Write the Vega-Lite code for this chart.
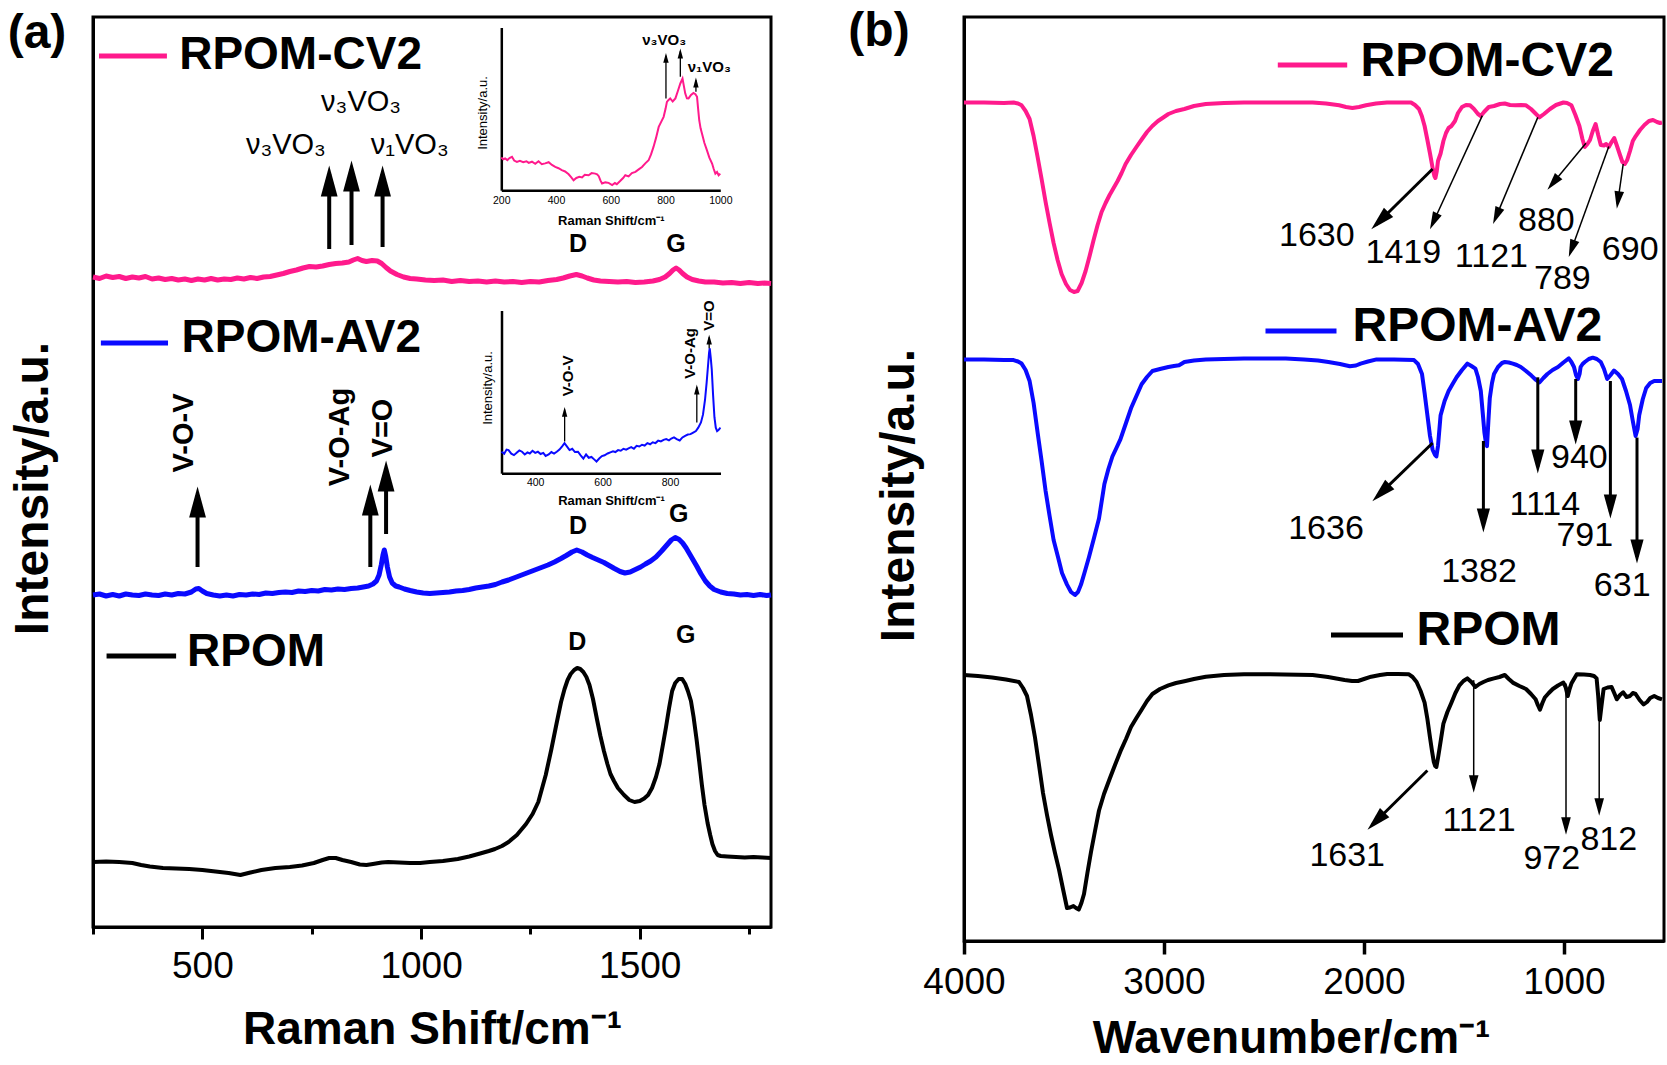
{
  "$schema": "https://vega.github.io/schema/vega-lite/v6.json",
  "background": "white",
  "padding": {"left": 6, "top": 6, "right": 0, "bottom": 0},
  "config": {
    "font": "Liberation Sans",
    "view": {"stroke": "black", "strokeWidth": 3},
    "axis": {"domainColor": "black", "tickColor": "black", "labelColor": "black", "titleColor": "black", "grid": false, "labelFont": "Liberation Sans", "titleFont": "Liberation Sans"},
    "text": {"font": "Liberation Sans", "color": "black"}
  },
  "datasets": {
    "raman": [
      {"sample":"RPOM-CV2","shift":250,"intensity":650},{"sample":"RPOM-CV2","shift":265,"intensity":648.5},{"sample":"RPOM-CV2","shift":280,"intensity":651},{"sample":"RPOM-CV2","shift":295,"intensity":649.5},{"sample":"RPOM-CV2","shift":310,"intensity":650.5},{"sample":"RPOM-CV2","shift":325,"intensity":648.5},{"sample":"RPOM-CV2","shift":340,"intensity":650},{"sample":"RPOM-CV2","shift":355,"intensity":649},{"sample":"RPOM-CV2","shift":370,"intensity":650.5},{"sample":"RPOM-CV2","shift":385,"intensity":648},{"sample":"RPOM-CV2","shift":400,"intensity":649},{"sample":"RPOM-CV2","shift":415,"intensity":647.5},{"sample":"RPOM-CV2","shift":430,"intensity":648.5},{"sample":"RPOM-CV2","shift":445,"intensity":647},{"sample":"RPOM-CV2","shift":460,"intensity":648},{"sample":"RPOM-CV2","shift":475,"intensity":646.5},{"sample":"RPOM-CV2","shift":490,"intensity":648},{"sample":"RPOM-CV2","shift":505,"intensity":647},{"sample":"RPOM-CV2","shift":520,"intensity":648.5},{"sample":"RPOM-CV2","shift":535,"intensity":647},{"sample":"RPOM-CV2","shift":550,"intensity":648},{"sample":"RPOM-CV2","shift":565,"intensity":647.5},{"sample":"RPOM-CV2","shift":580,"intensity":649},{"sample":"RPOM-CV2","shift":595,"intensity":648},{"sample":"RPOM-CV2","shift":610,"intensity":649.5},{"sample":"RPOM-CV2","shift":625,"intensity":648.5},{"sample":"RPOM-CV2","shift":640,"intensity":650},{"sample":"RPOM-CV2","shift":655,"intensity":650.5},{"sample":"RPOM-CV2","shift":670,"intensity":652},{"sample":"RPOM-CV2","shift":685,"intensity":653.5},{"sample":"RPOM-CV2","shift":700,"intensity":655.5},{"sample":"RPOM-CV2","shift":715,"intensity":657},{"sample":"RPOM-CV2","shift":730,"intensity":659},{"sample":"RPOM-CV2","shift":745,"intensity":660.5},{"sample":"RPOM-CV2","shift":760,"intensity":660},{"sample":"RPOM-CV2","shift":775,"intensity":661},{"sample":"RPOM-CV2","shift":790,"intensity":662.5},{"sample":"RPOM-CV2","shift":805,"intensity":663.5},{"sample":"RPOM-CV2","shift":820,"intensity":664},{"sample":"RPOM-CV2","shift":835,"intensity":665},{"sample":"RPOM-CV2","shift":845,"intensity":667},{"sample":"RPOM-CV2","shift":855,"intensity":668.5},{"sample":"RPOM-CV2","shift":865,"intensity":666.5},{"sample":"RPOM-CV2","shift":875,"intensity":665.5},{"sample":"RPOM-CV2","shift":888,"intensity":666.5},{"sample":"RPOM-CV2","shift":900,"intensity":666},{"sample":"RPOM-CV2","shift":910,"intensity":663.5},{"sample":"RPOM-CV2","shift":920,"intensity":659.5},{"sample":"RPOM-CV2","shift":930,"intensity":656},{"sample":"RPOM-CV2","shift":945,"intensity":652.5},{"sample":"RPOM-CV2","shift":960,"intensity":650},{"sample":"RPOM-CV2","shift":975,"intensity":648.5},{"sample":"RPOM-CV2","shift":990,"intensity":648},{"sample":"RPOM-CV2","shift":1010,"intensity":647},{"sample":"RPOM-CV2","shift":1030,"intensity":646.5},{"sample":"RPOM-CV2","shift":1050,"intensity":647},{"sample":"RPOM-CV2","shift":1070,"intensity":645.5},{"sample":"RPOM-CV2","shift":1090,"intensity":646.5},{"sample":"RPOM-CV2","shift":1110,"intensity":645.5},{"sample":"RPOM-CV2","shift":1130,"intensity":646},{"sample":"RPOM-CV2","shift":1150,"intensity":645},{"sample":"RPOM-CV2","shift":1170,"intensity":646},{"sample":"RPOM-CV2","shift":1190,"intensity":645},{"sample":"RPOM-CV2","shift":1210,"intensity":645.5},{"sample":"RPOM-CV2","shift":1230,"intensity":644.5},{"sample":"RPOM-CV2","shift":1250,"intensity":645.5},{"sample":"RPOM-CV2","shift":1270,"intensity":645},{"sample":"RPOM-CV2","shift":1290,"intensity":646.5},{"sample":"RPOM-CV2","shift":1310,"intensity":647.5},{"sample":"RPOM-CV2","shift":1325,"intensity":649},{"sample":"RPOM-CV2","shift":1340,"intensity":651},{"sample":"RPOM-CV2","shift":1355,"intensity":652.5},{"sample":"RPOM-CV2","shift":1368,"intensity":651},{"sample":"RPOM-CV2","shift":1380,"intensity":649},{"sample":"RPOM-CV2","shift":1395,"intensity":647},{"sample":"RPOM-CV2","shift":1410,"intensity":646},{"sample":"RPOM-CV2","shift":1430,"intensity":645.5},{"sample":"RPOM-CV2","shift":1450,"intensity":645},{"sample":"RPOM-CV2","shift":1470,"intensity":645.5},{"sample":"RPOM-CV2","shift":1490,"intensity":644.5},{"sample":"RPOM-CV2","shift":1510,"intensity":645},{"sample":"RPOM-CV2","shift":1530,"intensity":646},{"sample":"RPOM-CV2","shift":1545,"intensity":647.5},{"sample":"RPOM-CV2","shift":1558,"intensity":650},{"sample":"RPOM-CV2","shift":1568,"intensity":653.5},{"sample":"RPOM-CV2","shift":1576,"intensity":657},{"sample":"RPOM-CV2","shift":1583,"intensity":659},{"sample":"RPOM-CV2","shift":1590,"intensity":657},{"sample":"RPOM-CV2","shift":1598,"intensity":653.5},{"sample":"RPOM-CV2","shift":1608,"intensity":650},{"sample":"RPOM-CV2","shift":1620,"intensity":647.5},{"sample":"RPOM-CV2","shift":1635,"intensity":646},{"sample":"RPOM-CV2","shift":1650,"intensity":645},{"sample":"RPOM-CV2","shift":1670,"intensity":645},{"sample":"RPOM-CV2","shift":1690,"intensity":644},{"sample":"RPOM-CV2","shift":1710,"intensity":644.5},{"sample":"RPOM-CV2","shift":1730,"intensity":643.5},{"sample":"RPOM-CV2","shift":1750,"intensity":644.5},{"sample":"RPOM-CV2","shift":1770,"intensity":643.5},{"sample":"RPOM-CV2","shift":1785,"intensity":644},{"sample":"RPOM-CV2","shift":1800,"intensity":643.5},
      {"sample":"RPOM-AV2","shift":250,"intensity":332},{"sample":"RPOM-AV2","shift":265,"intensity":333},{"sample":"RPOM-AV2","shift":280,"intensity":331},{"sample":"RPOM-AV2","shift":295,"intensity":332.5},{"sample":"RPOM-AV2","shift":310,"intensity":331},{"sample":"RPOM-AV2","shift":325,"intensity":333},{"sample":"RPOM-AV2","shift":340,"intensity":332},{"sample":"RPOM-AV2","shift":355,"intensity":331.5},{"sample":"RPOM-AV2","shift":370,"intensity":333},{"sample":"RPOM-AV2","shift":385,"intensity":332},{"sample":"RPOM-AV2","shift":400,"intensity":331.5},{"sample":"RPOM-AV2","shift":415,"intensity":333},{"sample":"RPOM-AV2","shift":430,"intensity":332},{"sample":"RPOM-AV2","shift":445,"intensity":333.5},{"sample":"RPOM-AV2","shift":460,"intensity":333},{"sample":"RPOM-AV2","shift":475,"intensity":335},{"sample":"RPOM-AV2","shift":485,"intensity":338},{"sample":"RPOM-AV2","shift":492,"intensity":338.5},{"sample":"RPOM-AV2","shift":500,"intensity":336},{"sample":"RPOM-AV2","shift":510,"intensity":333.5},{"sample":"RPOM-AV2","shift":525,"intensity":332},{"sample":"RPOM-AV2","shift":540,"intensity":331},{"sample":"RPOM-AV2","shift":555,"intensity":332},{"sample":"RPOM-AV2","shift":570,"intensity":331},{"sample":"RPOM-AV2","shift":585,"intensity":332.5},{"sample":"RPOM-AV2","shift":600,"intensity":332},{"sample":"RPOM-AV2","shift":615,"intensity":333},{"sample":"RPOM-AV2","shift":630,"intensity":332.5},{"sample":"RPOM-AV2","shift":645,"intensity":334},{"sample":"RPOM-AV2","shift":660,"intensity":333.5},{"sample":"RPOM-AV2","shift":675,"intensity":334.5},{"sample":"RPOM-AV2","shift":690,"intensity":335},{"sample":"RPOM-AV2","shift":705,"intensity":334.5},{"sample":"RPOM-AV2","shift":720,"intensity":336},{"sample":"RPOM-AV2","shift":735,"intensity":335.5},{"sample":"RPOM-AV2","shift":750,"intensity":336.5},{"sample":"RPOM-AV2","shift":765,"intensity":336},{"sample":"RPOM-AV2","shift":780,"intensity":337.5},{"sample":"RPOM-AV2","shift":795,"intensity":337},{"sample":"RPOM-AV2","shift":810,"intensity":338},{"sample":"RPOM-AV2","shift":825,"intensity":337.5},{"sample":"RPOM-AV2","shift":840,"intensity":338.5},{"sample":"RPOM-AV2","shift":855,"intensity":339},{"sample":"RPOM-AV2","shift":868,"intensity":340},{"sample":"RPOM-AV2","shift":880,"intensity":341},{"sample":"RPOM-AV2","shift":890,"intensity":343},{"sample":"RPOM-AV2","shift":898,"intensity":346},{"sample":"RPOM-AV2","shift":904,"intensity":352},{"sample":"RPOM-AV2","shift":909,"intensity":362},{"sample":"RPOM-AV2","shift":913,"intensity":372},{"sample":"RPOM-AV2","shift":916,"intensity":377},{"sample":"RPOM-AV2","shift":919,"intensity":371},{"sample":"RPOM-AV2","shift":923,"intensity":360},{"sample":"RPOM-AV2","shift":928,"intensity":350},{"sample":"RPOM-AV2","shift":934,"intensity":344},{"sample":"RPOM-AV2","shift":942,"intensity":341},{"sample":"RPOM-AV2","shift":950,"intensity":340},{"sample":"RPOM-AV2","shift":962,"intensity":338},{"sample":"RPOM-AV2","shift":975,"intensity":336.5},{"sample":"RPOM-AV2","shift":990,"intensity":335},{"sample":"RPOM-AV2","shift":1005,"intensity":334},{"sample":"RPOM-AV2","shift":1020,"intensity":333.5},{"sample":"RPOM-AV2","shift":1035,"intensity":334},{"sample":"RPOM-AV2","shift":1050,"intensity":334.5},{"sample":"RPOM-AV2","shift":1065,"intensity":335},{"sample":"RPOM-AV2","shift":1080,"intensity":336},{"sample":"RPOM-AV2","shift":1095,"intensity":336.5},{"sample":"RPOM-AV2","shift":1110,"intensity":337.5},{"sample":"RPOM-AV2","shift":1125,"intensity":339},{"sample":"RPOM-AV2","shift":1140,"intensity":340},{"sample":"RPOM-AV2","shift":1155,"intensity":341},{"sample":"RPOM-AV2","shift":1170,"intensity":342.5},{"sample":"RPOM-AV2","shift":1185,"intensity":345},{"sample":"RPOM-AV2","shift":1200,"intensity":347},{"sample":"RPOM-AV2","shift":1215,"intensity":349.5},{"sample":"RPOM-AV2","shift":1230,"intensity":352},{"sample":"RPOM-AV2","shift":1245,"intensity":354.5},{"sample":"RPOM-AV2","shift":1260,"intensity":357},{"sample":"RPOM-AV2","shift":1275,"intensity":359.5},{"sample":"RPOM-AV2","shift":1290,"intensity":362},{"sample":"RPOM-AV2","shift":1305,"intensity":365},{"sample":"RPOM-AV2","shift":1320,"intensity":368.5},{"sample":"RPOM-AV2","shift":1332,"intensity":371.5},{"sample":"RPOM-AV2","shift":1345,"intensity":375},{"sample":"RPOM-AV2","shift":1356,"intensity":377},{"sample":"RPOM-AV2","shift":1368,"intensity":375},{"sample":"RPOM-AV2","shift":1380,"intensity":372},{"sample":"RPOM-AV2","shift":1392,"intensity":369.5},{"sample":"RPOM-AV2","shift":1405,"intensity":367},{"sample":"RPOM-AV2","shift":1418,"intensity":364.5},{"sample":"RPOM-AV2","shift":1430,"intensity":361.5},{"sample":"RPOM-AV2","shift":1442,"intensity":358.5},{"sample":"RPOM-AV2","shift":1455,"intensity":355.5},{"sample":"RPOM-AV2","shift":1466,"intensity":354},{"sample":"RPOM-AV2","shift":1478,"intensity":355},{"sample":"RPOM-AV2","shift":1490,"intensity":357.5},{"sample":"RPOM-AV2","shift":1502,"intensity":360},{"sample":"RPOM-AV2","shift":1513,"intensity":363},{"sample":"RPOM-AV2","shift":1525,"intensity":366},{"sample":"RPOM-AV2","shift":1537,"intensity":370},{"sample":"RPOM-AV2","shift":1550,"intensity":376},{"sample":"RPOM-AV2","shift":1562,"intensity":382},{"sample":"RPOM-AV2","shift":1572,"intensity":387},{"sample":"RPOM-AV2","shift":1581,"intensity":389.5},{"sample":"RPOM-AV2","shift":1590,"intensity":387.5},{"sample":"RPOM-AV2","shift":1598,"intensity":384},{"sample":"RPOM-AV2","shift":1606,"intensity":379},{"sample":"RPOM-AV2","shift":1614,"intensity":373},{"sample":"RPOM-AV2","shift":1622,"intensity":367},{"sample":"RPOM-AV2","shift":1630,"intensity":361},{"sample":"RPOM-AV2","shift":1640,"intensity":353},{"sample":"RPOM-AV2","shift":1650,"intensity":346},{"sample":"RPOM-AV2","shift":1660,"intensity":341},{"sample":"RPOM-AV2","shift":1670,"intensity":337.5},{"sample":"RPOM-AV2","shift":1685,"intensity":335},{"sample":"RPOM-AV2","shift":1700,"intensity":333.5},{"sample":"RPOM-AV2","shift":1715,"intensity":333},{"sample":"RPOM-AV2","shift":1730,"intensity":332},{"sample":"RPOM-AV2","shift":1745,"intensity":332.5},{"sample":"RPOM-AV2","shift":1760,"intensity":331.5},{"sample":"RPOM-AV2","shift":1775,"intensity":332.5},{"sample":"RPOM-AV2","shift":1790,"intensity":331.5},{"sample":"RPOM-AV2","shift":1800,"intensity":332},
      {"sample":"RPOM","shift":250,"intensity":65},{"sample":"RPOM","shift":280,"intensity":65.5},{"sample":"RPOM","shift":310,"intensity":65},{"sample":"RPOM","shift":340,"intensity":64},{"sample":"RPOM","shift":360,"intensity":62},{"sample":"RPOM","shift":380,"intensity":60.5},{"sample":"RPOM","shift":410,"intensity":59},{"sample":"RPOM","shift":440,"intensity":58.5},{"sample":"RPOM","shift":470,"intensity":58},{"sample":"RPOM","shift":500,"intensity":57},{"sample":"RPOM","shift":530,"intensity":55.5},{"sample":"RPOM","shift":560,"intensity":54},{"sample":"RPOM","shift":587,"intensity":52},{"sample":"RPOM","shift":610,"intensity":54.5},{"sample":"RPOM","shift":635,"intensity":57},{"sample":"RPOM","shift":667,"intensity":59},{"sample":"RPOM","shift":700,"intensity":60},{"sample":"RPOM","shift":728,"intensity":61.5},{"sample":"RPOM","shift":755,"intensity":64},{"sample":"RPOM","shift":775,"intensity":67},{"sample":"RPOM","shift":790,"intensity":69},{"sample":"RPOM","shift":805,"intensity":69},{"sample":"RPOM","shift":820,"intensity":67},{"sample":"RPOM","shift":840,"intensity":65},{"sample":"RPOM","shift":860,"intensity":62.5},{"sample":"RPOM","shift":875,"intensity":62},{"sample":"RPOM","shift":890,"intensity":63},{"sample":"RPOM","shift":910,"intensity":64.5},{"sample":"RPOM","shift":925,"intensity":65},{"sample":"RPOM","shift":950,"intensity":64.5},{"sample":"RPOM","shift":975,"intensity":64},{"sample":"RPOM","shift":998,"intensity":64},{"sample":"RPOM","shift":1020,"intensity":65},{"sample":"RPOM","shift":1050,"intensity":66},{"sample":"RPOM","shift":1084,"intensity":68},{"sample":"RPOM","shift":1110,"intensity":70.5},{"sample":"RPOM","shift":1135,"intensity":73.5},{"sample":"RPOM","shift":1155,"intensity":76},{"sample":"RPOM","shift":1169,"intensity":78},{"sample":"RPOM","shift":1185,"intensity":81},{"sample":"RPOM","shift":1200,"intensity":85},{"sample":"RPOM","shift":1219,"intensity":92},{"sample":"RPOM","shift":1240,"intensity":103},{"sample":"RPOM","shift":1255,"intensity":113},{"sample":"RPOM","shift":1268,"intensity":125},{"sample":"RPOM","shift":1285,"intensity":152},{"sample":"RPOM","shift":1298,"intensity":178},{"sample":"RPOM","shift":1310,"intensity":204},{"sample":"RPOM","shift":1320,"intensity":225},{"sample":"RPOM","shift":1328,"intensity":238},{"sample":"RPOM","shift":1335,"intensity":247},{"sample":"RPOM","shift":1342,"intensity":253},{"sample":"RPOM","shift":1350,"intensity":257},{"sample":"RPOM","shift":1357,"intensity":259},{"sample":"RPOM","shift":1364,"intensity":258},{"sample":"RPOM","shift":1371,"intensity":255},{"sample":"RPOM","shift":1378,"intensity":250},{"sample":"RPOM","shift":1385,"intensity":242},{"sample":"RPOM","shift":1393,"intensity":228},{"sample":"RPOM","shift":1402,"intensity":208},{"sample":"RPOM","shift":1410,"intensity":191},{"sample":"RPOM","shift":1418,"intensity":176},{"sample":"RPOM","shift":1426,"intensity":163},{"sample":"RPOM","shift":1433,"intensity":153},{"sample":"RPOM","shift":1441,"intensity":146},{"sample":"RPOM","shift":1450,"intensity":139},{"sample":"RPOM","shift":1464,"intensity":132},{"sample":"RPOM","shift":1476,"intensity":127},{"sample":"RPOM","shift":1488,"intensity":125},{"sample":"RPOM","shift":1500,"intensity":126},{"sample":"RPOM","shift":1510,"intensity":128.5},{"sample":"RPOM","shift":1519,"intensity":132},{"sample":"RPOM","shift":1528,"intensity":139},{"sample":"RPOM","shift":1537,"intensity":150},{"sample":"RPOM","shift":1545,"intensity":163},{"sample":"RPOM","shift":1552,"intensity":180},{"sample":"RPOM","shift":1560,"intensity":200},{"sample":"RPOM","shift":1567,"intensity":219},{"sample":"RPOM","shift":1574,"intensity":236},{"sample":"RPOM","shift":1581,"intensity":244},{"sample":"RPOM","shift":1589,"intensity":248},{"sample":"RPOM","shift":1597,"intensity":248},{"sample":"RPOM","shift":1604,"intensity":243},{"sample":"RPOM","shift":1610,"intensity":236},{"sample":"RPOM","shift":1617,"intensity":226},{"sample":"RPOM","shift":1623,"intensity":210},{"sample":"RPOM","shift":1630,"intensity":187},{"sample":"RPOM","shift":1636,"intensity":165},{"sample":"RPOM","shift":1642,"intensity":142},{"sample":"RPOM","shift":1648,"intensity":122},{"sample":"RPOM","shift":1655,"intensity":104},{"sample":"RPOM","shift":1661,"intensity":92},{"sample":"RPOM","shift":1666,"intensity":83},{"sample":"RPOM","shift":1672,"intensity":76},{"sample":"RPOM","shift":1678,"intensity":72},{"sample":"RPOM","shift":1685,"intensity":71},{"sample":"RPOM","shift":1700,"intensity":70.5},{"sample":"RPOM","shift":1720,"intensity":70},{"sample":"RPOM","shift":1740,"intensity":69.5},{"sample":"RPOM","shift":1760,"intensity":70},{"sample":"RPOM","shift":1780,"intensity":69.5},{"sample":"RPOM","shift":1800,"intensity":69}
    ],
    "insetCV2": [
      {"shift":200,"intensity":20.1},{"shift":207,"intensity":19},{"shift":214,"intensity":19.5},{"shift":222,"intensity":18.5},{"shift":230,"intensity":19.8},{"shift":239,"intensity":20.5},{"shift":247,"intensity":18.2},{"shift":257,"intensity":17.4},{"shift":268,"intensity":18},{"shift":280,"intensity":17.2},{"shift":292,"intensity":17.8},{"shift":300,"intensity":16.8},{"shift":312,"intensity":17.5},{"shift":324,"intensity":16.2},{"shift":336,"intensity":17.8},{"shift":348,"intensity":16},{"shift":360,"intensity":16.5},{"shift":373,"intensity":17.2},{"shift":385,"intensity":15.5},{"shift":397,"intensity":14.3},{"shift":409,"intensity":13.5},{"shift":421,"intensity":12.3},{"shift":433,"intensity":11.5},{"shift":446,"intensity":9.8},{"shift":455,"intensity":8},{"shift":464,"intensity":6.1},{"shift":474,"intensity":7.5},{"shift":485,"intensity":8.2},{"shift":495,"intensity":7.8},{"shift":505,"intensity":9.5},{"shift":519,"intensity":9.2},{"shift":530,"intensity":10.5},{"shift":543,"intensity":10.2},{"shift":550,"intensity":9.8},{"shift":556,"intensity":8.6},{"shift":562,"intensity":6},{"shift":568,"intensity":4.1},{"shift":580,"intensity":4.8},{"shift":592,"intensity":4.5},{"shift":605,"intensity":3.2},{"shift":615,"intensity":4.4},{"shift":622,"intensity":3.7},{"shift":635,"intensity":5.8},{"shift":645,"intensity":7.5},{"shift":653,"intensity":9.2},{"shift":665,"intensity":8.5},{"shift":677,"intensity":10.5},{"shift":690,"intensity":11.3},{"shift":702,"intensity":12.8},{"shift":714,"intensity":14.3},{"shift":726,"intensity":16.5},{"shift":738,"intensity":18.4},{"shift":747,"intensity":22},{"shift":756,"intensity":26.6},{"shift":765,"intensity":32},{"shift":775,"intensity":38.9},{"shift":784,"intensity":42},{"shift":793,"intensity":45.1},{"shift":800,"intensity":50},{"shift":805,"intensity":54.3},{"shift":811,"intensity":55.5},{"shift":817,"intensity":56.4},{"shift":826,"intensity":54.5},{"shift":836,"intensity":56.4},{"shift":845,"intensity":61},{"shift":854,"intensity":65.6},{"shift":862,"intensity":68.6},{"shift":867,"intensity":64},{"shift":872,"intensity":59.4},{"shift":878,"intensity":56.5},{"shift":884,"intensity":56.4},{"shift":893,"intensity":58.5},{"shift":902,"intensity":59.8},{"shift":909,"intensity":59},{"shift":915,"intensity":57.4},{"shift":919,"intensity":50},{"shift":923,"intensity":43},{"shift":928,"intensity":38},{"shift":933,"intensity":34.8},{"shift":942,"intensity":29},{"shift":951,"intensity":24.6},{"shift":960,"intensity":20},{"shift":970,"intensity":16.4},{"shift":976,"intensity":13},{"shift":982,"intensity":10.2},{"shift":988,"intensity":11.2},{"shift":994,"intensity":9.2},{"shift":1000,"intensity":10.2}
    ],
    "insetAV2": [
      {"shift":300,"intensity":13.2},{"shift":308,"intensity":12},{"shift":315,"intensity":14.5},{"shift":321,"intensity":14.2},{"shift":329,"intensity":12},{"shift":337,"intensity":11.1},{"shift":345,"intensity":12.5},{"shift":353,"intensity":14},{"shift":361,"intensity":13.2},{"shift":369,"intensity":11.5},{"shift":377,"intensity":12.8},{"shift":384,"intensity":12.1},{"shift":392,"intensity":13.8},{"shift":400,"intensity":12.5},{"shift":408,"intensity":13.2},{"shift":416,"intensity":11.8},{"shift":424,"intensity":12.5},{"shift":431,"intensity":10.6},{"shift":440,"intensity":11.5},{"shift":448,"intensity":13},{"shift":456,"intensity":12},{"shift":464,"intensity":13.2},{"shift":472,"intensity":14.5},{"shift":480,"intensity":16.5},{"shift":487,"intensity":18.4},{"shift":494,"intensity":16.5},{"shift":502,"intensity":14.2},{"shift":510,"intensity":15},{"shift":518,"intensity":13},{"shift":527,"intensity":13.2},{"shift":535,"intensity":11},{"shift":543,"intensity":9},{"shift":551,"intensity":11.5},{"shift":559,"intensity":9.5},{"shift":567,"intensity":10},{"shift":575,"intensity":8.5},{"shift":582,"intensity":7.2},{"shift":590,"intensity":9},{"shift":598,"intensity":10.5},{"shift":606,"intensity":11},{"shift":615,"intensity":12.1},{"shift":623,"intensity":12.8},{"shift":631,"intensity":13.5},{"shift":638,"intensity":13},{"shift":646,"intensity":14.2},{"shift":654,"intensity":13.8},{"shift":662,"intensity":15},{"shift":670,"intensity":14.5},{"shift":677,"intensity":15.3},{"shift":685,"intensity":16},{"shift":693,"intensity":15},{"shift":701,"intensity":16.8},{"shift":709,"intensity":16.4},{"shift":717,"intensity":17.5},{"shift":725,"intensity":17},{"shift":733,"intensity":18.5},{"shift":741,"intensity":17.8},{"shift":749,"intensity":19},{"shift":757,"intensity":18.5},{"shift":765,"intensity":20},{"shift":773,"intensity":19.5},{"shift":781,"intensity":20.5},{"shift":789,"intensity":21},{"shift":797,"intensity":20.2},{"shift":804,"intensity":21.3},{"shift":812,"intensity":22},{"shift":820,"intensity":21},{"shift":829,"intensity":20.1},{"shift":837,"intensity":22},{"shift":845,"intensity":23},{"shift":853,"intensity":23.8},{"shift":861,"intensity":24},{"shift":869,"intensity":25},{"shift":877,"intensity":25.9},{"shift":884,"intensity":28},{"shift":892,"intensity":31.2},{"shift":898,"intensity":36},{"shift":904,"intensity":45},{"shift":909,"intensity":56},{"shift":913,"intensity":66.2},{"shift":916,"intensity":74},{"shift":918,"intensity":76.8},{"shift":921,"intensity":71},{"shift":924,"intensity":64},{"shift":928,"intensity":48},{"shift":932,"intensity":34.4},{"shift":936,"intensity":28},{"shift":940,"intensity":25.9},{"shift":944,"intensity":26.5},{"shift":948,"intensity":27.6},{"shift":950,"intensity":28}
    ],
    "aArrows": [
      {"shift":790,"intensity":753,"shift2":790,"intensity2":678},{"shift":841,"intensity":758,"shift2":841,"intensity2":682},{"shift":912,"intensity":753,"shift2":912,"intensity2":680},
      {"shift":489,"intensity":432,"shift2":489,"intensity2":360},{"shift":884,"intensity":434,"shift2":884,"intensity2":360},{"shift":920,"intensity":458,"shift2":920,"intensity2":393}
    ],
    "aNu": [{"label":"ν₃VO₃","shift":691,"intensity":782},{"label":"ν₃VO₃","shift":863,"intensity":825},{"label":"ν₁VO₃","shift":974,"intensity":782}],
    "aDG": [{"label":"D","shift":1359,"intensity":683},{"label":"G","shift":1583,"intensity":683},{"label":"D","shift":1359,"intensity":401},{"label":"G","shift":1589,"intensity":413},{"label":"D","shift":1357,"intensity":285},{"label":"G","shift":1605,"intensity":292.5}],
    "aRot": [{"label":"V-O-V","shift":458.7,"intensity":494},{"label":"V-O-Ag","shift":814,"intensity":490},{"label":"V=O","shift":912,"intensity":499}],
    "aLegendText": [{"label":"RPOM-CV2","shift":447,"intensity":858},{"label":"RPOM-AV2","shift":452.6,"intensity":575},{"label":"RPOM","shift":465,"intensity":261}],
    "aLegendLines": [{"sample":"RPOM-CV2","shift":263.7,"shift2":419,"intensity":871},{"sample":"RPOM-AV2","shift":268,"shift2":421.5,"intensity":584},{"sample":"RPOM","shift":281,"shift2":440,"intensity":271}],
    "aPanel": [{"label":"(a)","shift":122,"intensity":893}],
    "inset1Arrows": [{"shift":801.5,"intensity":82.7,"shift2":801.5,"intensity2":56.4},{"shift":854,"intensity":85.4,"shift2":854,"intensity2":69.7},{"shift":911,"intensity":67.6,"shift2":911,"intensity2":60.5}],
    "inset1Labels": [{"label":"ν₃VO₃","shift":795,"intensity":92.2},{"label":"ν₁VO₃","shift":960,"intensity":75.8}],
    "inset2Arrows": [{"shift":487.4,"intensity":39.1,"shift2":487.4,"intensity2":19.5},{"shift":879.7,"intensity":52.8,"shift2":879.7,"intensity2":31.2},{"shift":916.4,"intensity":83.5,"shift2":916.4,"intensity2":76.8}],
    "inset2Labels": [{"label":"V-O-V","shift":498.7,"intensity":59.8},{"label":"V-O-Ag","shift":860.7,"intensity":73.6},{"label":"V=O","shift":916.4,"intensity":96.9}],
    "ftir": [
      {"sample":"RPOM-CV2","wn":4000,"T":838.5},{"sample":"RPOM-CV2","wn":3900,"T":838.5},{"sample":"RPOM-CV2","wn":3800,"T":838},{"sample":"RPOM-CV2","wn":3752,"T":838.5},{"sample":"RPOM-CV2","wn":3730,"T":837.5},{"sample":"RPOM-CV2","wn":3712,"T":835.7},{"sample":"RPOM-CV2","wn":3692,"T":830},{"sample":"RPOM-CV2","wn":3672,"T":822},{"sample":"RPOM-CV2","wn":3652,"T":805},{"sample":"RPOM-CV2","wn":3632,"T":784},{"sample":"RPOM-CV2","wn":3612,"T":762},{"sample":"RPOM-CV2","wn":3592,"T":739},{"sample":"RPOM-CV2","wn":3572,"T":718},{"sample":"RPOM-CV2","wn":3552,"T":698},{"sample":"RPOM-CV2","wn":3532,"T":681},{"sample":"RPOM-CV2","wn":3512,"T":667},{"sample":"RPOM-CV2","wn":3490,"T":657},{"sample":"RPOM-CV2","wn":3470,"T":651},{"sample":"RPOM-CV2","wn":3450,"T":649},{"sample":"RPOM-CV2","wn":3432,"T":650},{"sample":"RPOM-CV2","wn":3412,"T":658},{"sample":"RPOM-CV2","wn":3392,"T":670},{"sample":"RPOM-CV2","wn":3372,"T":685},{"sample":"RPOM-CV2","wn":3352,"T":701},{"sample":"RPOM-CV2","wn":3332,"T":716},{"sample":"RPOM-CV2","wn":3312,"T":729},{"sample":"RPOM-CV2","wn":3292,"T":738},{"sample":"RPOM-CV2","wn":3272,"T":746},{"sample":"RPOM-CV2","wn":3252,"T":753},{"sample":"RPOM-CV2","wn":3232,"T":760},{"sample":"RPOM-CV2","wn":3212,"T":768},{"sample":"RPOM-CV2","wn":3192,"T":777},{"sample":"RPOM-CV2","wn":3165,"T":786},{"sample":"RPOM-CV2","wn":3138,"T":794},{"sample":"RPOM-CV2","wn":3110,"T":802},{"sample":"RPOM-CV2","wn":3085,"T":809},{"sample":"RPOM-CV2","wn":3058,"T":815},{"sample":"RPOM-CV2","wn":3030,"T":820},{"sample":"RPOM-CV2","wn":3000,"T":824},{"sample":"RPOM-CV2","wn":2978,"T":827},{"sample":"RPOM-CV2","wn":2940,"T":830},{"sample":"RPOM-CV2","wn":2898,"T":832},{"sample":"RPOM-CV2","wn":2850,"T":835},{"sample":"RPOM-CV2","wn":2791,"T":837},{"sample":"RPOM-CV2","wn":2700,"T":838},{"sample":"RPOM-CV2","wn":2600,"T":838.5},{"sample":"RPOM-CV2","wn":2524,"T":838.5},{"sample":"RPOM-CV2","wn":2400,"T":838.5},{"sample":"RPOM-CV2","wn":2257,"T":838.5},{"sample":"RPOM-CV2","wn":2190,"T":837.5},{"sample":"RPOM-CV2","wn":2124,"T":835.7},{"sample":"RPOM-CV2","wn":2090,"T":834},{"sample":"RPOM-CV2","wn":2058,"T":833},{"sample":"RPOM-CV2","wn":2025,"T":834},{"sample":"RPOM-CV2","wn":1990,"T":835.7},{"sample":"RPOM-CV2","wn":1940,"T":837.5},{"sample":"RPOM-CV2","wn":1885,"T":838.5},{"sample":"RPOM-CV2","wn":1820,"T":838.5},{"sample":"RPOM-CV2","wn":1765,"T":838.5},{"sample":"RPOM-CV2","wn":1745,"T":836},{"sample":"RPOM-CV2","wn":1725,"T":832},{"sample":"RPOM-CV2","wn":1711,"T":825},{"sample":"RPOM-CV2","wn":1697,"T":815},{"sample":"RPOM-CV2","wn":1683,"T":801},{"sample":"RPOM-CV2","wn":1670,"T":787.5},{"sample":"RPOM-CV2","wn":1656,"T":772},{"sample":"RPOM-CV2","wn":1648,"T":765},{"sample":"RPOM-CV2","wn":1643,"T":763},{"sample":"RPOM-CV2","wn":1636,"T":770},{"sample":"RPOM-CV2","wn":1630,"T":780},{"sample":"RPOM-CV2","wn":1617,"T":787.5},{"sample":"RPOM-CV2","wn":1603,"T":800},{"sample":"RPOM-CV2","wn":1590,"T":808},{"sample":"RPOM-CV2","wn":1577,"T":813},{"sample":"RPOM-CV2","wn":1563,"T":815},{"sample":"RPOM-CV2","wn":1545,"T":820},{"sample":"RPOM-CV2","wn":1530,"T":828},{"sample":"RPOM-CV2","wn":1510,"T":834},{"sample":"RPOM-CV2","wn":1490,"T":836},{"sample":"RPOM-CV2","wn":1470,"T":835.7},{"sample":"RPOM-CV2","wn":1450,"T":832},{"sample":"RPOM-CV2","wn":1430,"T":827},{"sample":"RPOM-CV2","wn":1416,"T":825},{"sample":"RPOM-CV2","wn":1400,"T":829},{"sample":"RPOM-CV2","wn":1376,"T":834},{"sample":"RPOM-CV2","wn":1350,"T":835},{"sample":"RPOM-CV2","wn":1320,"T":837},{"sample":"RPOM-CV2","wn":1296,"T":837.5},{"sample":"RPOM-CV2","wn":1270,"T":836},{"sample":"RPOM-CV2","wn":1243,"T":835.7},{"sample":"RPOM-CV2","wn":1215,"T":836},{"sample":"RPOM-CV2","wn":1190,"T":835.7},{"sample":"RPOM-CV2","wn":1165,"T":832},{"sample":"RPOM-CV2","wn":1145,"T":828},{"sample":"RPOM-CV2","wn":1123,"T":823.6},{"sample":"RPOM-CV2","wn":1100,"T":827},{"sample":"RPOM-CV2","wn":1070,"T":832},{"sample":"RPOM-CV2","wn":1040,"T":836},{"sample":"RPOM-CV2","wn":1003,"T":838.5},{"sample":"RPOM-CV2","wn":985,"T":838},{"sample":"RPOM-CV2","wn":963,"T":835.7},{"sample":"RPOM-CV2","wn":943,"T":826},{"sample":"RPOM-CV2","wn":923,"T":815},{"sample":"RPOM-CV2","wn":908,"T":802},{"sample":"RPOM-CV2","wn":896,"T":794},{"sample":"RPOM-CV2","wn":883,"T":797},{"sample":"RPOM-CV2","wn":870,"T":801},{"sample":"RPOM-CV2","wn":856,"T":810},{"sample":"RPOM-CV2","wn":842,"T":817},{"sample":"RPOM-CV2","wn":829,"T":806},{"sample":"RPOM-CV2","wn":816,"T":796},{"sample":"RPOM-CV2","wn":800,"T":795.5},{"sample":"RPOM-CV2","wn":789,"T":797},{"sample":"RPOM-CV2","wn":776,"T":794},{"sample":"RPOM-CV2","wn":762,"T":799},{"sample":"RPOM-CV2","wn":749,"T":803},{"sample":"RPOM-CV2","wn":735,"T":795},{"sample":"RPOM-CV2","wn":720,"T":786},{"sample":"RPOM-CV2","wn":708,"T":779},{"sample":"RPOM-CV2","wn":696,"T":777},{"sample":"RPOM-CV2","wn":684,"T":781},{"sample":"RPOM-CV2","wn":670,"T":790},{"sample":"RPOM-CV2","wn":656,"T":800},{"sample":"RPOM-CV2","wn":642,"T":804.7},{"sample":"RPOM-CV2","wn":620,"T":811},{"sample":"RPOM-CV2","wn":598,"T":816},{"sample":"RPOM-CV2","wn":575,"T":820},{"sample":"RPOM-CV2","wn":555,"T":821},{"sample":"RPOM-CV2","wn":535,"T":819},{"sample":"RPOM-CV2","wn":520,"T":818},{"sample":"RPOM-CV2","wn":510,"T":818.5},
      {"sample":"RPOM-AV2","wn":4000,"T":581.6},{"sample":"RPOM-AV2","wn":3900,"T":581.5},{"sample":"RPOM-AV2","wn":3800,"T":581},{"sample":"RPOM-AV2","wn":3752,"T":580.9},{"sample":"RPOM-AV2","wn":3730,"T":579.5},{"sample":"RPOM-AV2","wn":3712,"T":577.4},{"sample":"RPOM-AV2","wn":3692,"T":571},{"sample":"RPOM-AV2","wn":3672,"T":560},{"sample":"RPOM-AV2","wn":3652,"T":538},{"sample":"RPOM-AV2","wn":3632,"T":508.6},{"sample":"RPOM-AV2","wn":3612,"T":480},{"sample":"RPOM-AV2","wn":3592,"T":450},{"sample":"RPOM-AV2","wn":3572,"T":425},{"sample":"RPOM-AV2","wn":3552,"T":401},{"sample":"RPOM-AV2","wn":3530,"T":384},{"sample":"RPOM-AV2","wn":3510,"T":368},{"sample":"RPOM-AV2","wn":3485,"T":356.4},{"sample":"RPOM-AV2","wn":3465,"T":349},{"sample":"RPOM-AV2","wn":3445,"T":346},{"sample":"RPOM-AV2","wn":3430,"T":349},{"sample":"RPOM-AV2","wn":3415,"T":356.4},{"sample":"RPOM-AV2","wn":3395,"T":370},{"sample":"RPOM-AV2","wn":3375,"T":384},{"sample":"RPOM-AV2","wn":3350,"T":403},{"sample":"RPOM-AV2","wn":3325,"T":422.5},{"sample":"RPOM-AV2","wn":3298,"T":457},{"sample":"RPOM-AV2","wn":3278,"T":472},{"sample":"RPOM-AV2","wn":3258,"T":484.5},{"sample":"RPOM-AV2","wn":3238,"T":493},{"sample":"RPOM-AV2","wn":3218,"T":501.7},{"sample":"RPOM-AV2","wn":3190,"T":518},{"sample":"RPOM-AV2","wn":3165,"T":532.7},{"sample":"RPOM-AV2","wn":3138,"T":545},{"sample":"RPOM-AV2","wn":3112,"T":556.8},{"sample":"RPOM-AV2","wn":3085,"T":564},{"sample":"RPOM-AV2","wn":3058,"T":570},{"sample":"RPOM-AV2","wn":3020,"T":572},{"sample":"RPOM-AV2","wn":2978,"T":574},{"sample":"RPOM-AV2","wn":2950,"T":575},{"sample":"RPOM-AV2","wn":2925,"T":575.7},{"sample":"RPOM-AV2","wn":2910,"T":577.5},{"sample":"RPOM-AV2","wn":2898,"T":579},{"sample":"RPOM-AV2","wn":2850,"T":580.5},{"sample":"RPOM-AV2","wn":2791,"T":581.6},{"sample":"RPOM-AV2","wn":2700,"T":582},{"sample":"RPOM-AV2","wn":2600,"T":582.5},{"sample":"RPOM-AV2","wn":2500,"T":582.6},{"sample":"RPOM-AV2","wn":2391,"T":582.6},{"sample":"RPOM-AV2","wn":2300,"T":581.5},{"sample":"RPOM-AV2","wn":2230,"T":580.5},{"sample":"RPOM-AV2","wn":2178,"T":579},{"sample":"RPOM-AV2","wn":2120,"T":577},{"sample":"RPOM-AV2","wn":2071,"T":574.7},{"sample":"RPOM-AV2","wn":2040,"T":575.5},{"sample":"RPOM-AV2","wn":2017,"T":577.4},{"sample":"RPOM-AV2","wn":1980,"T":579.5},{"sample":"RPOM-AV2","wn":1937,"T":581.6},{"sample":"RPOM-AV2","wn":1850,"T":581.5},{"sample":"RPOM-AV2","wn":1750,"T":580.9},{"sample":"RPOM-AV2","wn":1730,"T":577},{"sample":"RPOM-AV2","wn":1710,"T":567},{"sample":"RPOM-AV2","wn":1697,"T":548},{"sample":"RPOM-AV2","wn":1683,"T":525.8},{"sample":"RPOM-AV2","wn":1670,"T":505},{"sample":"RPOM-AV2","wn":1657,"T":491.3},{"sample":"RPOM-AV2","wn":1645,"T":486},{"sample":"RPOM-AV2","wn":1638,"T":484.5},{"sample":"RPOM-AV2","wn":1630,"T":495},{"sample":"RPOM-AV2","wn":1617,"T":525.8},{"sample":"RPOM-AV2","wn":1597,"T":540},{"sample":"RPOM-AV2","wn":1577,"T":550},{"sample":"RPOM-AV2","wn":1557,"T":557},{"sample":"RPOM-AV2","wn":1537,"T":563.7},{"sample":"RPOM-AV2","wn":1510,"T":571},{"sample":"RPOM-AV2","wn":1483,"T":577.4},{"sample":"RPOM-AV2","wn":1463,"T":575},{"sample":"RPOM-AV2","wn":1443,"T":572.3},{"sample":"RPOM-AV2","wn":1430,"T":564},{"sample":"RPOM-AV2","wn":1416,"T":550},{"sample":"RPOM-AV2","wn":1405,"T":525},{"sample":"RPOM-AV2","wn":1398,"T":508.6},{"sample":"RPOM-AV2","wn":1391,"T":499},{"sample":"RPOM-AV2","wn":1385,"T":494.8},{"sample":"RPOM-AV2","wn":1378,"T":520},{"sample":"RPOM-AV2","wn":1371,"T":543},{"sample":"RPOM-AV2","wn":1360,"T":558},{"sample":"RPOM-AV2","wn":1350,"T":567},{"sample":"RPOM-AV2","wn":1330,"T":574},{"sample":"RPOM-AV2","wn":1310,"T":578},{"sample":"RPOM-AV2","wn":1296,"T":579},{"sample":"RPOM-AV2","wn":1276,"T":578.5},{"sample":"RPOM-AV2","wn":1256,"T":577.4},{"sample":"RPOM-AV2","wn":1236,"T":576},{"sample":"RPOM-AV2","wn":1216,"T":574},{"sample":"RPOM-AV2","wn":1190,"T":570},{"sample":"RPOM-AV2","wn":1163,"T":565.4},{"sample":"RPOM-AV2","wn":1140,"T":561},{"sample":"RPOM-AV2","wn":1123,"T":558.5},{"sample":"RPOM-AV2","wn":1103,"T":563},{"sample":"RPOM-AV2","wn":1083,"T":567},{"sample":"RPOM-AV2","wn":1057,"T":571},{"sample":"RPOM-AV2","wn":1030,"T":574},{"sample":"RPOM-AV2","wn":1003,"T":578.5},{"sample":"RPOM-AV2","wn":976,"T":582.6},{"sample":"RPOM-AV2","wn":963,"T":579},{"sample":"RPOM-AV2","wn":950,"T":574},{"sample":"RPOM-AV2","wn":940,"T":566},{"sample":"RPOM-AV2","wn":930,"T":562},{"sample":"RPOM-AV2","wn":922,"T":567},{"sample":"RPOM-AV2","wn":917,"T":574},{"sample":"RPOM-AV2","wn":907,"T":577},{"sample":"RPOM-AV2","wn":896,"T":579},{"sample":"RPOM-AV2","wn":876,"T":582},{"sample":"RPOM-AV2","wn":856,"T":583.3},{"sample":"RPOM-AV2","wn":836,"T":582},{"sample":"RPOM-AV2","wn":816,"T":579},{"sample":"RPOM-AV2","wn":800,"T":572},{"sample":"RPOM-AV2","wn":784,"T":562},{"sample":"RPOM-AV2","wn":767,"T":566},{"sample":"RPOM-AV2","wn":750,"T":570.5},{"sample":"RPOM-AV2","wn":730,"T":567},{"sample":"RPOM-AV2","wn":710,"T":562},{"sample":"RPOM-AV2","wn":690,"T":550},{"sample":"RPOM-AV2","wn":670,"T":536},{"sample":"RPOM-AV2","wn":656,"T":520},{"sample":"RPOM-AV2","wn":642,"T":505},{"sample":"RPOM-AV2","wn":632,"T":512},{"sample":"RPOM-AV2","wn":624,"T":525.8},{"sample":"RPOM-AV2","wn":606,"T":542},{"sample":"RPOM-AV2","wn":589,"T":553},{"sample":"RPOM-AV2","wn":569,"T":558},{"sample":"RPOM-AV2","wn":549,"T":560},{"sample":"RPOM-AV2","wn":530,"T":560},{"sample":"RPOM-AV2","wn":510,"T":560},
      {"sample":"RPOM","wn":4000,"T":266},{"sample":"RPOM","wn":3930,"T":265},{"sample":"RPOM","wn":3859,"T":263.6},{"sample":"RPOM","wn":3790,"T":261.5},{"sample":"RPOM","wn":3725,"T":259},{"sample":"RPOM","wn":3705,"T":253},{"sample":"RPOM","wn":3685,"T":245},{"sample":"RPOM","wn":3665,"T":226},{"sample":"RPOM","wn":3645,"T":203.5},{"sample":"RPOM","wn":3625,"T":176},{"sample":"RPOM","wn":3605,"T":148},{"sample":"RPOM","wn":3585,"T":126},{"sample":"RPOM","wn":3565,"T":106},{"sample":"RPOM","wn":3545,"T":88},{"sample":"RPOM","wn":3525,"T":71.4},{"sample":"RPOM","wn":3505,"T":52},{"sample":"RPOM","wn":3485,"T":33},{"sample":"RPOM","wn":3470,"T":33.5},{"sample":"RPOM","wn":3453,"T":35},{"sample":"RPOM","wn":3440,"T":33},{"sample":"RPOM","wn":3426,"T":31.4},{"sample":"RPOM","wn":3413,"T":38},{"sample":"RPOM","wn":3400,"T":47},{"sample":"RPOM","wn":3383,"T":68},{"sample":"RPOM","wn":3365,"T":89},{"sample":"RPOM","wn":3345,"T":110},{"sample":"RPOM","wn":3325,"T":130.5},{"sample":"RPOM","wn":3300,"T":147},{"sample":"RPOM","wn":3272,"T":162},{"sample":"RPOM","wn":3245,"T":176},{"sample":"RPOM","wn":3218,"T":189.6},{"sample":"RPOM","wn":3190,"T":202},{"sample":"RPOM","wn":3165,"T":214},{"sample":"RPOM","wn":3138,"T":223},{"sample":"RPOM","wn":3112,"T":231.3},{"sample":"RPOM","wn":3085,"T":240},{"sample":"RPOM","wn":3058,"T":247},{"sample":"RPOM","wn":3020,"T":252},{"sample":"RPOM","wn":2978,"T":255.6},{"sample":"RPOM","wn":2940,"T":258},{"sample":"RPOM","wn":2898,"T":259.8},{"sample":"RPOM","wn":2850,"T":262},{"sample":"RPOM","wn":2791,"T":264.3},{"sample":"RPOM","wn":2700,"T":266},{"sample":"RPOM","wn":2600,"T":266.8},{"sample":"RPOM","wn":2524,"T":266.8},{"sample":"RPOM","wn":2400,"T":266.5},{"sample":"RPOM","wn":2257,"T":266},{"sample":"RPOM","wn":2180,"T":264},{"sample":"RPOM","wn":2097,"T":261},{"sample":"RPOM","wn":2060,"T":260},{"sample":"RPOM","wn":2030,"T":260},{"sample":"RPOM","wn":2000,"T":262},{"sample":"RPOM","wn":1964,"T":264.3},{"sample":"RPOM","wn":1920,"T":266},{"sample":"RPOM","wn":1884,"T":267},{"sample":"RPOM","wn":1830,"T":267},{"sample":"RPOM","wn":1777,"T":266.8},{"sample":"RPOM","wn":1757,"T":264},{"sample":"RPOM","wn":1737,"T":259},{"sample":"RPOM","wn":1717,"T":250},{"sample":"RPOM","wn":1697,"T":238.3},{"sample":"RPOM","wn":1683,"T":222},{"sample":"RPOM","wn":1670,"T":203.5},{"sample":"RPOM","wn":1660,"T":190},{"sample":"RPOM","wn":1651,"T":179.2},{"sample":"RPOM","wn":1644,"T":175},{"sample":"RPOM","wn":1638,"T":174},{"sample":"RPOM","wn":1630,"T":183},{"sample":"RPOM","wn":1622,"T":193},{"sample":"RPOM","wn":1603,"T":217.4},{"sample":"RPOM","wn":1583,"T":229},{"sample":"RPOM","wn":1563,"T":238.3},{"sample":"RPOM","wn":1543,"T":248},{"sample":"RPOM","wn":1523,"T":255.6},{"sample":"RPOM","wn":1503,"T":260},{"sample":"RPOM","wn":1483,"T":262.6},{"sample":"RPOM","wn":1463,"T":259},{"sample":"RPOM","wn":1443,"T":254},{"sample":"RPOM","wn":1423,"T":257},{"sample":"RPOM","wn":1403,"T":259},{"sample":"RPOM","wn":1380,"T":261},{"sample":"RPOM","wn":1350,"T":262.6},{"sample":"RPOM","wn":1323,"T":264},{"sample":"RPOM","wn":1296,"T":266},{"sample":"RPOM","wn":1276,"T":262},{"sample":"RPOM","wn":1256,"T":258.4},{"sample":"RPOM","wn":1223,"T":255},{"sample":"RPOM","wn":1190,"T":252},{"sample":"RPOM","wn":1165,"T":247},{"sample":"RPOM","wn":1142,"T":241.7},{"sample":"RPOM","wn":1131,"T":236},{"sample":"RPOM","wn":1120,"T":231.3},{"sample":"RPOM","wn":1108,"T":238},{"sample":"RPOM","wn":1096,"T":243.5},{"sample":"RPOM","wn":1076,"T":248},{"sample":"RPOM","wn":1056,"T":252},{"sample":"RPOM","wn":1030,"T":255.5},{"sample":"RPOM","wn":1003,"T":258.4},{"sample":"RPOM","wn":992,"T":254},{"sample":"RPOM","wn":981,"T":245},{"sample":"RPOM","wn":972,"T":252},{"sample":"RPOM","wn":963,"T":257.4},{"sample":"RPOM","wn":950,"T":262},{"sample":"RPOM","wn":936,"T":266.8},{"sample":"RPOM","wn":900,"T":266.5},{"sample":"RPOM","wn":870,"T":266},{"sample":"RPOM","wn":850,"T":265},{"sample":"RPOM","wn":837,"T":262.6},{"sample":"RPOM","wn":829,"T":245},{"sample":"RPOM","wn":821,"T":221},{"sample":"RPOM","wn":812,"T":236},{"sample":"RPOM","wn":802,"T":252},{"sample":"RPOM","wn":782,"T":253.5},{"sample":"RPOM","wn":762,"T":254},{"sample":"RPOM","wn":749,"T":248},{"sample":"RPOM","wn":736,"T":241.7},{"sample":"RPOM","wn":720,"T":246},{"sample":"RPOM","wn":704,"T":248.7},{"sample":"RPOM","wn":687,"T":244},{"sample":"RPOM","wn":670,"T":245},{"sample":"RPOM","wn":656,"T":248},{"sample":"RPOM","wn":642,"T":247},{"sample":"RPOM","wn":622,"T":241},{"sample":"RPOM","wn":602,"T":236.5},{"sample":"RPOM","wn":585,"T":239},{"sample":"RPOM","wn":569,"T":243},{"sample":"RPOM","wn":549,"T":245},{"sample":"RPOM","wn":530,"T":243},{"sample":"RPOM","wn":510,"T":241.7}
    ],
    "bArrowsThick": [
      {"wn":1940,"T":716.3,"wn2":1657,"T2":772,"angle":225.5},
      {"wn":1934.5,"T":444.3,"wn2":1657,"T2":498,"angle":226},
      {"wn":1959,"T":116,"wn2":1683,"T2":170.5,"angle":225},
      {"wn":1403,"T":415,"wn2":1403,"T2":500,"angle":180},
      {"wn":1131,"T":474,"wn2":1131,"T2":563.7,"angle":180},
      {"wn":941.5,"T":503,"wn2":941.5,"T2":562,"angle":180},
      {"wn":768,"T":429,"wn2":768,"T2":560,"angle":180},
      {"wn":635,"T":384,"wn2":635,"T2":503.4,"angle":180}
    ],
    "bArrowsThin": [
      {"wn":1660,"T":716,"wn2":1408.5,"T2":825.4,"angle":204.7},
      {"wn":1345.5,"T":721.4,"wn2":1131,"T2":823.6,"angle":202.8},
      {"wn":1067.5,"T":755,"wn2":890.5,"T2":797.8,"angle":219.6},
      {"wn":968,"T":688.5,"wn2":776,"T2":794.4,"angle":200},
      {"wn":732.5,"T":737,"wn2":704,"T2":777,"angle":188},
      {"wn":1451.5,"T":153,"wn2":1451.5,"T2":260.8,"angle":180},
      {"wn":990,"T":111,"wn2":990,"T2":257.4,"angle":180},
      {"wn":824,"T":130,"wn2":824,"T2":219,"angle":180}
    ],
    "bLabels": [
      {"label":"1630","wn":2236,"T":705},{"label":"1419","wn":1803.5,"T":687.6},{"label":"1121","wn":1363,"T":684},{"label":"880","wn":1088,"T":720.3},{"label":"789","wn":1008,"T":661.8},{"label":"690","wn":669,"T":691},
      {"label":"1636","wn":2190,"T":412},{"label":"1382","wn":1425,"T":368.6},{"label":"1114","wn":1096,"T":436},{"label":"940","wn":923,"T":482.7},{"label":"791","wn":896,"T":405},{"label":"631","wn":709,"T":354.7},
      {"label":"1631","wn":2084,"T":85.3},{"label":"1121","wn":1425,"T":120},{"label":"972","wn":1061,"T":82},{"label":"812","wn":776,"T":101}
    ],
    "bLegendText": [{"label":"RPOM-CV2","wn":2017,"T":865},{"label":"RPOM-AV2","wn":2057.5,"T":600},{"label":"RPOM","wn":1737,"T":296}],
    "bLegendLines": [{"sample":"RPOM-CV2","wn":2431,"wn2":2084,"T":876},{"sample":"RPOM-AV2","wn":2492.5,"wn2":2137.5,"T":610},{"sample":"RPOM","wn":2165,"wn2":1805,"T":306}],
    "bPanel": [{"label":"(b)","wn":4425,"T":909}]
  },
  "spacing": 193,
  "bounds": "flush",
  "hconcat": [
    {
      "width": 678,
      "height": 910,
      "layer": [
        {
          "encoding": {
            "x": {"field": "shift", "type": "quantitative", "scale": {"domain": [250, 1800], "nice": false, "zero": false},
              "axis": {"orient": "bottom", "values": [250, 500, 750, 1000, 1250, 1500, 1750], "format": "d", "labelExpr": "datum.value % 500 === 0 ? datum.label : ''", "labelFontSize": 37, "labelBaseline": "alphabetic", "labelPadding": 38, "labelFlush": false, "labelOverlap": false, "tickSize": {"condition": {"test": "datum.value % 500 === 0", "value": 12}, "value": 7}, "tickWidth": 3, "domainWidth": 3, "title": "Raman Shift/cm⁻¹", "titleFontSize": 46, "titleFontWeight": "bold", "titleBaseline": "alphabetic", "titleY": 116, "titleAlign": "center"}},
            "y": {"field": "intensity", "type": "quantitative", "scale": {"domain": [0, 910], "nice": false, "zero": false},
              "axis": {"orient": "left", "labels": false, "ticks": false, "domainWidth": 3, "title": "Intensity/a.u.", "titleFontSize": 48, "titleFontWeight": "bold", "titleAngle": 270, "titleX": -60, "titleY": 471, "titleBaseline": "middle", "titleAlign": "center"}}
          },
          "layer": [
            {"data": {"name": "raman"}, "transform": [{"filter": "datum.sample !== 'RPOM'"}], "mark": {"type": "line", "strokeWidth": 5, "strokeJoin": "round"},
              "encoding": {"color": {"field": "sample", "type": "nominal", "scale": {"domain": ["RPOM-CV2", "RPOM-AV2", "RPOM"], "range": ["#ff1a8c", "#0a0aff", "#000000"]}, "legend": null}}},
            {"data": {"name": "raman"}, "transform": [{"filter": "datum.sample === 'RPOM'"}], "mark": {"type": "line", "strokeWidth": 4, "color": "black", "strokeJoin": "round"}},
            {"data": {"name": "aLegendLines"}, "mark": {"type": "rule", "strokeWidth": 5},
              "encoding": {"x2": {"field": "shift2"}, "color": {"field": "sample", "type": "nominal", "scale": {"domain": ["RPOM-CV2", "RPOM-AV2", "RPOM"], "range": ["#ff1a8c", "#0a0aff", "#000000"]}, "legend": null}}},
            {"data": {"name": "aArrows"}, "mark": {"type": "rule", "strokeWidth": 4, "color": "black"},
              "encoding": {"x2": {"field": "shift2"}, "y2": {"field": "intensity2"}}},
            {"data": {"name": "aArrows"}, "mark": {"type": "point", "shape": "M0,-0.6L0.6,1.6L-0.6,1.6Z", "filled": true, "size": 784, "color": "black", "opacity": 1, "strokeWidth": 0}},
            {"data": {"name": "aNu"}, "mark": {"type": "text", "fontSize": 29, "align": "center", "baseline": "middle"}, "encoding": {"text": {"field": "label"}}},
            {"data": {"name": "aDG"}, "mark": {"type": "text", "fontSize": 25, "fontWeight": "bold", "align": "center", "baseline": "middle"}, "encoding": {"text": {"field": "label"}}},
            {"data": {"name": "aRot"}, "mark": {"type": "text", "fontSize": 29, "fontWeight": "bold", "align": "center", "baseline": "middle", "angle": 270}, "encoding": {"text": {"field": "label"}}},
            {"data": {"name": "aLegendText"}, "mark": {"type": "text", "fontSize": 46, "fontWeight": "bold", "align": "left", "baseline": "alphabetic"}, "encoding": {"text": {"field": "label"}}},
            {"data": {"name": "aPanel"}, "mark": {"type": "text", "fontSize": 48, "fontWeight": "bold", "align": "center", "baseline": "middle"}, "encoding": {"text": {"field": "label"}}}
          ]
        },
        {
          "encoding": {
            "x": {"field": "shift", "type": "quantitative", "scale": {"domain": [200, 1000], "range": [408.3, 627.3], "nice": false, "zero": false},
              "axis": {"orient": "bottom", "offset": -736.8, "values": [200, 400, 600, 800, 1000], "format": "d", "labelFontSize": 10.5, "labelBaseline": "middle", "labelPadding": 10, "labelFlush": false, "ticks": false, "tickSize": 0, "domainWidth": 2.5, "title": "Raman Shift/cm⁻¹", "titleFontSize": 13, "titleFontWeight": "bold", "titleBaseline": "middle", "titleY": 30}},
            "y": {"field": "intensity", "type": "quantitative", "scale": {"domain": [0, 100], "range": [173.2, 10.5], "nice": false, "zero": false},
              "axis": {"orient": "left", "offset": -408.3, "labels": false, "ticks": false, "domainWidth": 2.5, "title": "Intensity/a.u.", "titleFontSize": 13, "titleFontWeight": "normal", "titleAngle": 270, "titleX": -19, "titleY": 95.5, "titleBaseline": "middle", "titleAlign": "center"}}
          },
          "layer": [
            {"data": {"name": "insetCV2"}, "mark": {"type": "line", "strokeWidth": 2, "color": "#ff1a8c"}},
            {"data": {"name": "inset1Arrows"}, "mark": {"type": "rule", "strokeWidth": 1.3, "color": "black"}, "encoding": {"x2": {"field": "shift2"}, "y2": {"field": "intensity2"}}},
            {"data": {"name": "inset1Arrows"}, "mark": {"type": "point", "shape": "M0,-0.6L0.6,1.6L-0.6,1.6Z", "filled": true, "size": 81, "color": "black", "opacity": 1, "strokeWidth": 0}},
            {"data": {"name": "inset1Labels"}, "mark": {"type": "text", "fontSize": 15, "fontWeight": "bold", "align": "center", "baseline": "middle"}, "encoding": {"text": {"field": "label"}}}
          ]
        },
        {
          "encoding": {
            "x": {"field": "shift", "type": "quantitative", "scale": {"domain": [300, 950], "range": [408.5, 627.5], "nice": false, "zero": false},
              "axis": {"orient": "bottom", "offset": -453.8, "values": [400, 600, 800], "format": "d", "labelFontSize": 10.5, "labelBaseline": "middle", "labelPadding": 9, "labelFlush": false, "ticks": false, "tickSize": 0, "domainWidth": 2.5, "title": "Raman Shift/cm⁻¹", "titleFontSize": 13, "titleFontWeight": "bold", "titleBaseline": "middle", "titleY": 27}},
            "y": {"field": "intensity", "type": "quantitative", "scale": {"domain": [0, 100], "range": [456.2, 293.5], "nice": false, "zero": false},
              "axis": {"orient": "left", "offset": -408.5, "labels": false, "ticks": false, "domainWidth": 2.5, "title": "Intensity/a.u.", "titleFontSize": 13, "titleFontWeight": "normal", "titleAngle": 270, "titleX": -14, "titleY": 370.5, "titleBaseline": "middle", "titleAlign": "center"}}
          },
          "layer": [
            {"data": {"name": "insetAV2"}, "mark": {"type": "line", "strokeWidth": 2, "color": "#0a0aff"}},
            {"data": {"name": "inset2Arrows"}, "mark": {"type": "rule", "strokeWidth": 1.3, "color": "black"}, "encoding": {"x2": {"field": "shift2"}, "y2": {"field": "intensity2"}}},
            {"data": {"name": "inset2Arrows"}, "mark": {"type": "point", "shape": "M0,-0.6L0.6,1.6L-0.6,1.6Z", "filled": true, "size": 81, "color": "black", "opacity": 1, "strokeWidth": 0}},
            {"data": {"name": "inset2Labels"}, "mark": {"type": "text", "fontSize": 15, "fontWeight": "bold", "align": "center", "baseline": "middle", "angle": 270}, "encoding": {"text": {"field": "label"}}}
          ]
        }
      ],
      "resolve": {"scale": {"x": "independent", "y": "independent"}, "axis": {"x": "independent", "y": "independent"}}
    },
    {
      "width": 700,
      "height": 924,
      "encoding": {
        "x": {"field": "wn", "type": "quantitative", "scale": {"domain": [500, 4000], "reverse": true, "nice": false, "zero": false},
          "axis": {"orient": "bottom", "values": [1000, 2000, 3000, 4000], "format": "d", "labelFontSize": 37, "labelBaseline": "alphabetic", "labelPadding": 39, "labelFlush": false, "labelOverlap": false, "tickSize": 13, "tickWidth": 3.5, "domainWidth": 3, "title": "Wavenumber/cm⁻¹", "titleFontSize": 46, "titleFontWeight": "bold", "titleBaseline": "alphabetic", "titleY": 111, "titleX": 327, "titleAlign": "center"}},
        "y": {"field": "T", "type": "quantitative", "scale": {"domain": [0, 924], "nice": false, "zero": false},
          "axis": {"orient": "left", "labels": false, "ticks": false, "domainWidth": 3, "title": "Intensity/a.u.", "titleFontSize": 48, "titleFontWeight": "bold", "titleAngle": 270, "titleX": -65, "titleY": 478, "titleBaseline": "middle", "titleAlign": "center"}}
      },
      "layer": [
        {"data": {"name": "ftir"}, "mark": {"type": "line", "strokeWidth": 4, "strokeJoin": "round"},
          "encoding": {"color": {"field": "sample", "type": "nominal", "scale": {"domain": ["RPOM-CV2", "RPOM-AV2", "RPOM"], "range": ["#ff1a8c", "#0a0aff", "#000000"]}, "legend": null}}},
        {"data": {"name": "bArrowsThick"}, "mark": {"type": "rule", "strokeWidth": 3, "color": "black"}, "encoding": {"x2": {"field": "wn2"}, "y2": {"field": "T2"}}},
        {"data": {"name": "bArrowsThick"}, "mark": {"type": "point", "shape": "M0,-0.6L0.6,1.6L-0.6,1.6Z", "filled": true, "size": 484, "color": "black", "opacity": 1, "strokeWidth": 0}, "encoding": {"angle": {"field": "angle", "type": "quantitative", "scale": null}}},
        {"data": {"name": "bArrowsThin"}, "mark": {"type": "rule", "strokeWidth": 1.5, "color": "black"}, "encoding": {"x2": {"field": "wn2"}, "y2": {"field": "T2"}}},
        {"data": {"name": "bArrowsThin"}, "mark": {"type": "point", "shape": "M0,-0.6L0.6,1.6L-0.6,1.6Z", "filled": true, "size": 256, "color": "black", "opacity": 1, "strokeWidth": 0}, "encoding": {"angle": {"field": "angle", "type": "quantitative", "scale": null}}},
        {"data": {"name": "bLabels"}, "mark": {"type": "text", "fontSize": 34, "align": "center", "baseline": "middle"}, "encoding": {"text": {"field": "label"}}},
        {"data": {"name": "bLegendLines"}, "mark": {"type": "rule", "strokeWidth": 5},
          "encoding": {"x2": {"field": "wn2"}, "color": {"field": "sample", "type": "nominal", "scale": {"domain": ["RPOM-CV2", "RPOM-AV2", "RPOM"], "range": ["#ff1a8c", "#0a0aff", "#000000"]}, "legend": null}}},
        {"data": {"name": "bLegendText"}, "mark": {"type": "text", "fontSize": 48, "fontWeight": "bold", "align": "left", "baseline": "alphabetic"}, "encoding": {"text": {"field": "label"}}},
        {"data": {"name": "bPanel"}, "mark": {"type": "text", "fontSize": 48, "fontWeight": "bold", "align": "center", "baseline": "middle"}, "encoding": {"text": {"field": "label"}}}
      ]
    }
  ]
}
